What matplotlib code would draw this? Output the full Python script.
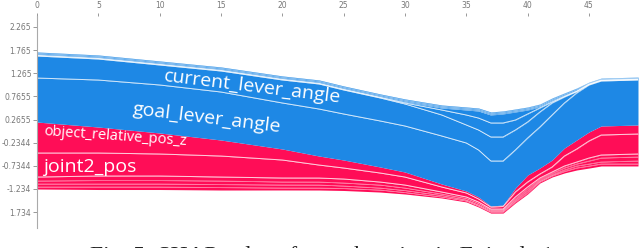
import matplotlib
matplotlib.use("Agg")
import matplotlib.pyplot as plt
import numpy as np

# sample index (x axis)
samples = [0, 5, 10, 15, 20, 23, 25, 28, 30, 33, 35, 36, 37, 38, 39, 40, 41, 42, 43, 44, 45, 46, 49]
# model output f(x): boundary between red and blue
output_value = [0.211, 0.103, -0.026, -0.178, -0.372, -0.524, -0.610, -0.762, -0.870, -1.129, -1.280,
                -1.410, -1.605, -1.583, -1.216, -0.935, -0.783, -0.610, -0.351, -0.178, -0.005, 0.125, 0.147]

# positive contributions (red), listed from the output boundary downward
object_relative_pos_z = [0.670, 0.562, 0.454, 0.346, 0.238, 0.195, 0.173, 0.130, 0.108, 0.065, 0.043, 0.043,
                         0.022, 0.032, 0.086, 0.151, 0.130, 0.151, 0.173, 0.195, 0.195, 0.195, 0.195]
joint2_pos = [0.519, 0.497, 0.476, 0.454, 0.389, 0.281, 0.238, 0.195, 0.173, 0.108, 0.086, 0.065,
              0.043, 0.054, 0.108, 0.108, 0.086, 0.108, 0.216, 0.281, 0.368, 0.432, 0.432]
red_small_1 = [0.086, 0.097, 0.097, 0.086, 0.086, 0.086, 0.086, 0.065, 0.065, 0.043, 0.032, 0.032,
               0.022, 0.022, 0.043, 0.043, 0.032, 0.032, 0.043, 0.043, 0.065, 0.065, 0.065]
red_small_2 = [0.065, 0.076, 0.076, 0.076, 0.065, 0.065, 0.065, 0.065, 0.054, 0.032, 0.032, 0.032,
               0.022, 0.022, 0.032, 0.043, 0.032, 0.032, 0.043, 0.043, 0.065, 0.086, 0.086]
red_small_3 = [0.065, 0.065, 0.065, 0.065, 0.065, 0.065, 0.054, 0.043, 0.043, 0.032, 0.022, 0.022,
               0.022, 0.022, 0.032, 0.043, 0.022, 0.022, 0.032, 0.043, 0.043, 0.043, 0.065]
red_small_4 = [0.043, 0.054, 0.054, 0.054, 0.043, 0.043, 0.043, 0.043, 0.032, 0.022, 0.022, 0.022,
               0.022, 0.022, 0.022, 0.022, 0.022, 0.022, 0.032, 0.043, 0.043, 0.043, 0.043]

# negative contributions (blue), listed from the output boundary upward
goal_lever_angle = [0.951, 1.016, 1.038, 1.038, 0.995, 1.016, 0.995, 0.995, 0.995, 1.038, 1.038, 1.016,
                    0.973, 0.951, 0.822, 0.800, 0.886, 0.973, 0.973, 1.016, 1.016, 0.973, 0.973]
current_lever_angle = [0.476, 0.454, 0.432, 0.454, 0.497, 0.541, 0.519, 0.497, 0.476, 0.454, 0.389, 0.432,
                       0.519, 0.519, 0.432, 0.346, 0.324, 0.259, 0.130, 0.030, 0.009, 0.009, 0.009]
blue_small_1 = [0.011, 0.011, 0.011, 0.011, 0.011, 0.011, 0.011, 0.011, 0.022, 0.108, 0.216, 0.259,
                0.303, 0.303, 0.216, 0.173, 0.086, 0.022, 0.011, 0.006, 0.006, 0.006, 0.006]
blue_small_2 = [0.011, 0.011, 0.011, 0.011, 0.011, 0.011, 0.011, 0.011, 0.022, 0.043, 0.108, 0.151,
                0.173, 0.195, 0.173, 0.086, 0.022, 0.022, 0.011, 0.006, 0.006, 0.006, 0.006]
blue_small_3 = [0.022, 0.022, 0.022, 0.022, 0.022, 0.022, 0.022, 0.022, 0.022, 0.022, 0.022, 0.022,
                0.022, 0.022, 0.022, 0.022, 0.022, 0.022, 0.022, 0.022, 0.014, 0.014, 0.014]
blue_small_4 = [0.022, 0.022, 0.022, 0.022, 0.022, 0.022, 0.022, 0.022, 0.022, 0.022, 0.022, 0.022,
                0.022, 0.022, 0.022, 0.022, 0.022, 0.022, 0.022, 0.022, 0.014, 0.014, 0.014]
blue_small_5 = [0.022, 0.022, 0.022, 0.022, 0.022, 0.022, 0.022, 0.022, 0.022, 0.022, 0.022, 0.022,
                0.022, 0.022, 0.022, 0.022, 0.022, 0.022, 0.022, 0.022, 0.014, 0.014, 0.014]

x_ticks = [0, 5, 10, 15, 20, 25, 30, 35, 40, 45]
y_ticks = [2.2655, 1.7655, 1.2655, 0.7655, 0.2655, -0.2344, -0.7344, -1.2344, -1.7344]
y_tick_labels = ["2.265", "1.765", "1.265", "0.7655", "0.2655", "-0.2344", "-0.7344", "-1.234", "1.734"]

caption = "Fig. 5: SHAP values for each action in Episode 1"

RED = "#FF0D57"
BLUE = "#1E88E5"

fig = plt.figure(figsize=(6.4, 2.48), dpi=100)
ax = fig.add_axes([37 / 640, 20 / 248, 601 / 640, 212 / 248])

x = np.array(samples, dtype=float)
out = np.array(output_value)

red_feats = [object_relative_pos_z, joint2_pos, red_small_1, red_small_2, red_small_3, red_small_4]
blue_feats = [goal_lever_angle, current_lever_angle, blue_small_1, blue_small_2, blue_small_3,
              blue_small_4, blue_small_5]

# red stack downward
upper = out.copy()
red_bounds = []
for v in red_feats:
    lower = upper - np.array(v)
    ax.fill_between(x, lower, upper, color=RED, lw=0)
    red_bounds.append(lower)
    upper = lower
for i, b in enumerate(red_bounds[:-1]):
    ax.plot(x, b, color="white", lw=0.7 if i < 2 else 0.5, alpha=0.8 if i < 2 else 0.55)

# blue stack upward
lower = out.copy()
blue_bounds = []
for v in blue_feats:
    upper = lower + np.array(v)
    ax.fill_between(x, lower, upper, color=BLUE, lw=0)
    blue_bounds.append(upper)
    lower = upper
for i, b in enumerate(blue_bounds[:-1]):
    ax.plot(x, b, color="white", lw=0.7 if i < 3 else 0.5, alpha=0.8 if i < 3 else 0.45)

ax.set_xlim(0, 49)
ax.set_ylim(-2.080, 2.503)

ax.xaxis.tick_top()
ax.set_xticks(x_ticks)
ax.set_xticklabels([str(t) for t in x_ticks])
ax.set_yticks(y_ticks)
ax.set_yticklabels(y_tick_labels)
ax.tick_params(axis="x", which="both", length=2, width=0.6, colors="#888888", labelsize=5.5, pad=2,
               labelcolor="#777777")
ax.tick_params(axis="y", which="both", length=3, width=0.6, colors="#888888", labelsize=5.5, pad=1,
               labelcolor="#777777")
for s in ["top", "right", "bottom"]:
    ax.spines[s].set_visible(False)
ax.spines["left"].set_color("#aaaaaa")
ax.spines["left"].set_linewidth(0.8)

lab = dict(color="white", ha="center", va="center", rotation_mode="anchor", family="Open Sans")
ax.text(17.6, 0.968, "current_lever_angle", fontsize=14, rotation=-7, **lab)
ax.text(13.85, 0.298, "goal_lever_angle", fontsize=14, rotation=-7, **lab)
ax.text(6.36, -0.113, "object_relative_pos_z", fontsize=10.5, rotation=-4, **lab)
ax.text(4.32, -0.762, "joint2_pos", fontsize=14, rotation=0, **lab)

fig.text(0.503, -14 / 248, caption, ha="center", va="baseline", fontsize=17,
         family="Liberation Serif", color="#222222")

fig.savefig("out.png", dpi=100)
